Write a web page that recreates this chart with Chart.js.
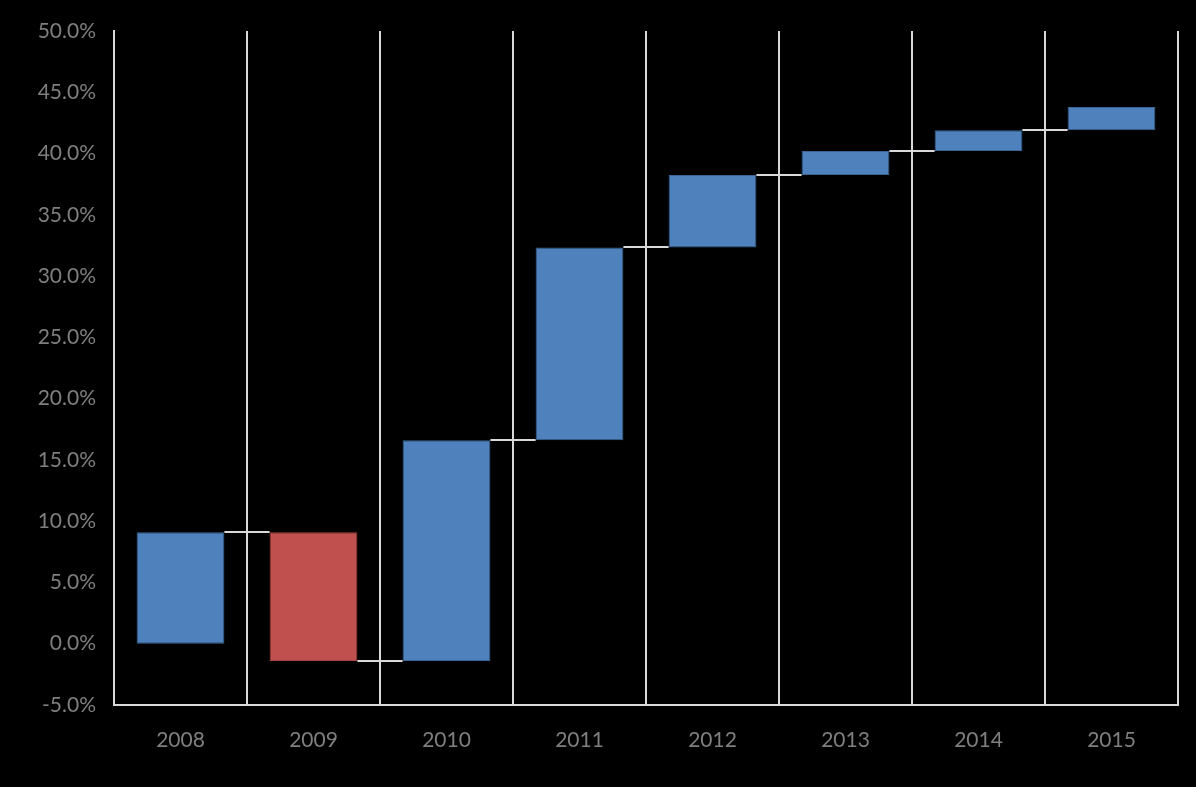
<!DOCTYPE html>
<html>
<head>
<meta charset="utf-8">
<script src="https://cdn.jsdelivr.net/npm/chart.js@4"></script>
<style>
  html, body { margin: 0; padding: 0; background: #000; }
  #wrap { width: 1196px; height: 787px; }
</style>
</head>
<body>
<div id="wrap"><canvas id="waterfall" width="1196" height="787"></canvas></div>
<script>
// years on the x axis
const years = ["2008", "2009", "2010", "2011", "2012", "2013", "2014", "2015"];
// start and end of each floating bar (cumulative %)
const barStart = [0.0, 9.09, -1.41, 16.6, 32.34, 38.24, 40.2, 41.91];
const barEnd = [9.09, -1.41, 16.6, 32.34, 38.24, 40.2, 41.91, 43.79];
// y tick range
const yMin = -5;
const yMax = 50;
const yStep = 5;

const blue = "#4F81BD";
const red = "#C0504D";
const lineGray = "#D9D9D9";
const labelGray = "#7F7F7F";

const barData = years.map((y, i) => [barStart[i], barEnd[i]]);
const barColors = years.map((y, i) => barEnd[i] < barStart[i] ? red : blue);
const barBorders = years.map((y, i) => barEnd[i] < barStart[i] ? "#A9433F" : "#3B6493");

// draw the small step lines between bars
const connectorPlugin = {
  id: "connectors",
  afterDatasetsDraw(chart) {
    const meta = chart.getDatasetMeta(0);
    const yScale = chart.scales.y;
    const c = chart.ctx;
    c.save();
    c.strokeStyle = lineGray;
    c.lineWidth = 2;
    for (let i = 0; i < meta.data.length - 1; i++) {
      const a = meta.data[i];
      const b = meta.data[i + 1];
      const yPix = Math.round(yScale.getPixelForValue(barEnd[i]));
      c.beginPath();
      c.moveTo(a.x + a.width / 2, yPix);
      c.lineTo(b.x - b.width / 2, yPix);
      c.stroke();
    }
    c.restore();
  }
};

new Chart(document.getElementById("waterfall"), {
  type: "bar",
  data: {
    labels: years,
    datasets: [{
      data: barData,
      backgroundColor: barColors,
      borderColor: barBorders,
      borderWidth: 1,
      borderSkipped: false,
      categoryPercentage: 0.66,
      barPercentage: 1.0
    }]
  },
  options: {
    responsive: false,
    animation: false,
    layout: { padding: { top: 31, right: 18, left: 0, bottom: 0 } },
    plugins: {
      legend: { display: false },
      tooltip: { enabled: false }
    },
    scales: {
      x: {
        grid: { display: true, offset: true, color: lineGray, lineWidth: 2, drawTicks: false },
        border: { display: true, color: lineGray, width: 2 },
        ticks: { color: labelGray, padding: 23, font: { family: "Lato", size: 21 } },
        afterFit(scale) { scale.height = 82; }
      },
      y: {
        min: yMin,
        max: yMax,
        grid: { display: false, drawTicks: false },
        border: { display: true, color: lineGray, width: 2 },
        ticks: {
          stepSize: yStep,
          color: labelGray,
          padding: 18,
          font: { family: "Lato", size: 21 },
          callback: v => v.toFixed(1) + "%"
        },
        afterFit(scale) { scale.width = 114; }
      }
    }
  },
  plugins: [connectorPlugin]
});
</script>
</body>
</html>
